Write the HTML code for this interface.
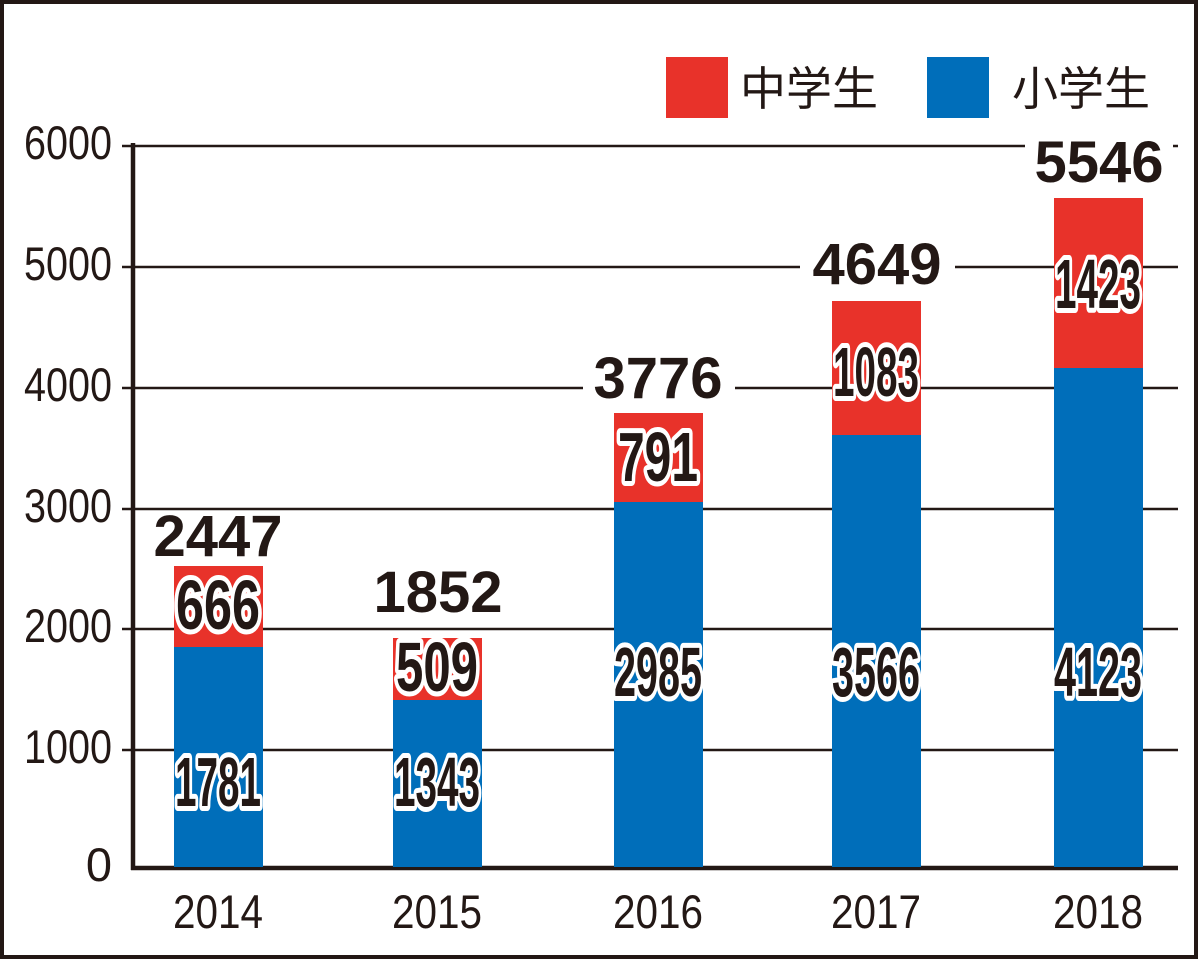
<!DOCTYPE html>
<html><head><meta charset="utf-8"><style>
html,body{margin:0;padding:0;background:#fff;}
svg{display:block;}
.v{font-family:"Liberation Sans",sans-serif;font-weight:bold;font-size:70px;fill:#231815;stroke:#fff;stroke-width:10px;paint-order:stroke;stroke-linejoin:round;}
.t{font-family:"Liberation Sans",sans-serif;font-weight:bold;font-size:58px;fill:#231815;}
.ax{font-family:"Liberation Sans",sans-serif;font-size:47px;fill:#231815;}
.lg{font-family:"Liberation Sans","Noto Sans CJK JP",sans-serif;font-size:46px;fill:#231815;}
</style></head><body>
<svg width="1200" height="960" viewBox="0 0 1200 960" xmlns="http://www.w3.org/2000/svg">
<rect x="2" y="2" width="1194" height="955" fill="#fff" stroke="#231815" stroke-width="4"/>
<g stroke="#231815" stroke-width="2.5">
<line x1="122" y1="146" x2="1178" y2="146"/>
<line x1="122" y1="267" x2="1178" y2="267"/>
<line x1="122" y1="388" x2="1178" y2="388"/>
<line x1="122" y1="509" x2="1178" y2="509"/>
<line x1="122" y1="629" x2="1178" y2="629"/>
<line x1="122" y1="750" x2="1178" y2="750"/>
</g>
<line x1="133" y1="143" x2="133" y2="870" stroke="#231815" stroke-width="4.5"/>
<line x1="131" y1="868" x2="1178" y2="868" stroke="#231815" stroke-width="4.5"/>
<g class="ax" text-anchor="end">
<text x="112" y="159" textLength="88" lengthAdjust="spacingAndGlyphs">6000</text>
<text x="112" y="280" textLength="88" lengthAdjust="spacingAndGlyphs">5000</text>
<text x="112" y="401" textLength="88" lengthAdjust="spacingAndGlyphs">4000</text>
<text x="112" y="522" textLength="88" lengthAdjust="spacingAndGlyphs">3000</text>
<text x="112" y="642" textLength="88" lengthAdjust="spacingAndGlyphs">2000</text>
<text x="112" y="763" textLength="88" lengthAdjust="spacingAndGlyphs">1000</text>
<text x="112" y="881">0</text>
</g>
<g class="ax" text-anchor="middle">
<text x="218" y="928" textLength="90" lengthAdjust="spacingAndGlyphs">2014</text>
<text x="437" y="928" textLength="90" lengthAdjust="spacingAndGlyphs">2015</text>
<text x="658" y="928" textLength="90" lengthAdjust="spacingAndGlyphs">2016</text>
<text x="876" y="928" textLength="90" lengthAdjust="spacingAndGlyphs">2017</text>
<text x="1098" y="928" textLength="90" lengthAdjust="spacingAndGlyphs">2018</text>
</g>
<rect x="174" y="566" width="89" height="81" fill="#e8322a"/><rect x="174" y="647" width="89" height="220" fill="#006eba"/>
<rect x="393" y="638" width="89" height="62" fill="#e8322a"/><rect x="393" y="700" width="89" height="167" fill="#006eba"/>
<rect x="614" y="413" width="89" height="89" fill="#e8322a"/><rect x="614" y="502" width="89" height="365" fill="#006eba"/>
<rect x="832" y="301" width="89" height="134" fill="#e8322a"/><rect x="832" y="435" width="89" height="432" fill="#006eba"/>
<rect x="1054" y="198" width="89" height="170" fill="#e8322a"/><rect x="1054" y="368" width="89" height="499" fill="#006eba"/>
<rect x="365" y="565" width="147" height="52" fill="#fff"/>
<rect x="583" y="352" width="152" height="52" fill="#fff"/>
<rect x="800" y="240" width="155" height="52" fill="#fff"/>
<rect x="1025" y="137" width="148" height="50" fill="#fff"/>
<g class="t" text-anchor="middle">
<text x="218" y="556">2447</text>
<text x="438" y="612">1852</text>
<text x="658" y="398">3776</text>
<text x="877" y="284">4649</text>
<text x="1099" y="182">5546</text>
</g>
<g class="v" text-anchor="middle">
<text x="218" y="629" textLength="84" lengthAdjust="spacingAndGlyphs">666</text>
<text x="218" y="806" textLength="86" lengthAdjust="spacingAndGlyphs">1781</text>
<text x="437" y="691" textLength="82" lengthAdjust="spacingAndGlyphs">509</text>
<text x="437" y="806" textLength="86" lengthAdjust="spacingAndGlyphs">1343</text>
<text x="658" y="481" textLength="80" lengthAdjust="spacingAndGlyphs">791</text>
<text x="658" y="696" textLength="88" lengthAdjust="spacingAndGlyphs">2985</text>
<text x="876" y="396" textLength="86" lengthAdjust="spacingAndGlyphs">1083</text>
<text x="876" y="696" textLength="88" lengthAdjust="spacingAndGlyphs">3566</text>
<text x="1098" y="308" textLength="86" lengthAdjust="spacingAndGlyphs">1423</text>
<text x="1098" y="696" textLength="88" lengthAdjust="spacingAndGlyphs">4123</text>
</g>
<rect x="666" y="57" width="62" height="61" fill="#e8322a"/>
<text class="lg" x="740" y="105">中学生</text>
<rect x="927" y="57" width="62" height="61" fill="#006eba"/>
<text class="lg" x="1012" y="105">小学生</text>
</svg>
</body></html>
